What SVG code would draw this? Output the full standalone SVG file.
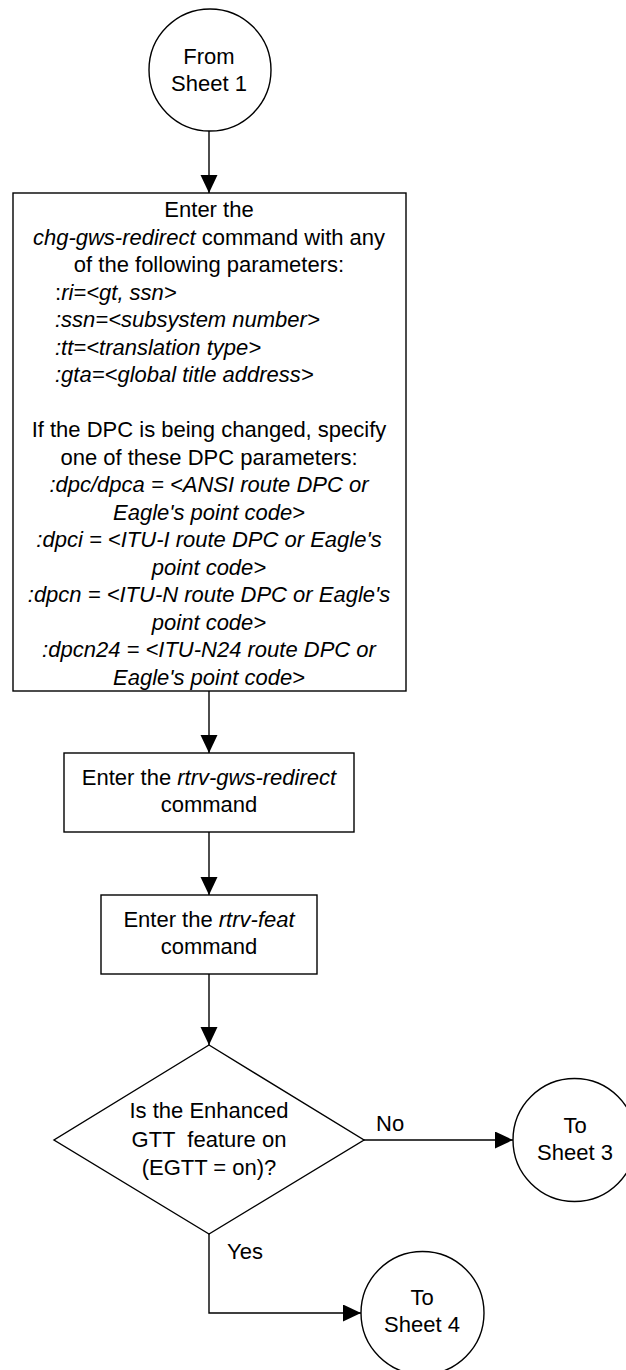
<svg xmlns="http://www.w3.org/2000/svg" width="626" height="1370" viewBox="0 0 626 1370">
<style>
  .shape { fill: #ffffff; stroke: #000000; stroke-width: 1.4; }
  .conn { fill: none; stroke: #000000; stroke-width: 1.4; }
  text { font-family: "Liberation Sans", Arial, sans-serif; font-size: 22px; fill: #000000; }
  .c { text-anchor: middle; }
  .i { font-style: italic; }
</style>
<defs>
  <marker id="arrow" markerUnits="userSpaceOnUse" markerWidth="18" markerHeight="18" refX="18" refY="8.5" orient="auto">
    <path d="M0,0 L18,8.5 L0,17 z" fill="#000000"/>
  </marker>
</defs>
<rect width="626" height="1370" fill="#ffffff"/>

<g id="connectors">
  <line class="conn" x1="209" y1="131" x2="209" y2="193" marker-end="url(#arrow)"/>
  <line class="conn" x1="209" y1="691" x2="209" y2="753" marker-end="url(#arrow)"/>
  <line class="conn" x1="209" y1="832" x2="209" y2="895" marker-end="url(#arrow)"/>
  <line class="conn" x1="209" y1="974" x2="209" y2="1045" marker-end="url(#arrow)"/>
  <line class="conn" x1="364" y1="1140" x2="513" y2="1140" marker-end="url(#arrow)"/>
  <polyline class="conn" points="209,1234 209,1313 361,1313" marker-end="url(#arrow)"/>
  <text x="376" y="1131">No</text>
  <text x="227" y="1259">Yes</text>
</g>

<g id="from-sheet-1">
  <circle class="shape" cx="210" cy="70" r="61"/>
  <text class="c" x="209" y="64">From</text>
  <text class="c" x="209" y="91">Sheet 1</text>
</g>

<g id="chg-gws-redirect">
  <rect class="shape" x="13" y="193" width="393" height="498"/>
  <text class="c" x="209" y="217">Enter the</text>
  <text class="c" x="209" y="244.5"><tspan class="i">chg-gws-redirect</tspan> command with any</text>
  <text class="c" x="209" y="272">of the following parameters:</text>
  <text x="55" y="299.5">:<tspan class="i">ri=&lt;gt, ssn&gt;</tspan></text>
  <text class="i" x="55" y="327">:ssn=&lt;subsystem number&gt;</text>
  <text class="i" x="55" y="354.5">:tt=&lt;translation type&gt;</text>
  <text class="i" x="55" y="382">:gta=&lt;global title address&gt;</text>
  <text class="c" x="209" y="437">If the DPC is being changed, specify</text>
  <text class="c" x="209" y="464.5">one of these DPC parameters:</text>
  <text class="c i" x="209" y="492">:dpc/dpca = &lt;ANSI route DPC or</text>
  <text class="c i" x="209" y="519.5">Eagle's point code&gt;</text>
  <text class="c i" x="209" y="547">:dpci = &lt;ITU-I route DPC or Eagle's</text>
  <text class="c i" x="209" y="574.5">point code&gt;</text>
  <text class="c i" x="209" y="602">:dpcn = &lt;ITU-N route DPC or Eagle's</text>
  <text class="c i" x="209" y="629.5">point code&gt;</text>
  <text class="c i" x="209" y="657">:dpcn24 = &lt;ITU-N24 route DPC or</text>
  <text class="c i" x="209" y="684.5">Eagle's point code&gt;</text>
</g>

<g id="rtrv-gws-redirect">
  <rect class="shape" x="64" y="753" width="290" height="79"/>
  <text class="c" x="209" y="785">Enter the <tspan class="i">rtrv-gws-redirect</tspan></text>
  <text class="c" x="209" y="812">command</text>
</g>

<g id="rtrv-feat">
  <rect class="shape" x="101" y="895" width="216" height="79"/>
  <text class="c" x="209" y="927">Enter the <tspan class="i">rtrv-feat</tspan></text>
  <text class="c" x="209" y="954">command</text>
</g>

<g id="egtt-decision">
  <polygon class="shape" points="209,1045 364,1140 209,1234 54,1140"/>
  <text class="c" x="209" y="1118">Is the Enhanced</text>
  <text class="c" x="209" y="1147" xml:space="preserve">GTT  feature on</text>
  <text class="c" x="209" y="1175">(EGTT = on)?</text>
</g>

<g id="to-sheet-3">
  <circle class="shape" cx="574.5" cy="1140" r="61.5"/>
  <text class="c" x="575" y="1133">To</text>
  <text class="c" x="575" y="1160">Sheet 3</text>
</g>

<g id="to-sheet-4">
  <circle class="shape" cx="422.5" cy="1313" r="61.5"/>
  <text class="c" x="422" y="1305">To</text>
  <text class="c" x="422" y="1332">Sheet 4</text>
</g>
</svg>
